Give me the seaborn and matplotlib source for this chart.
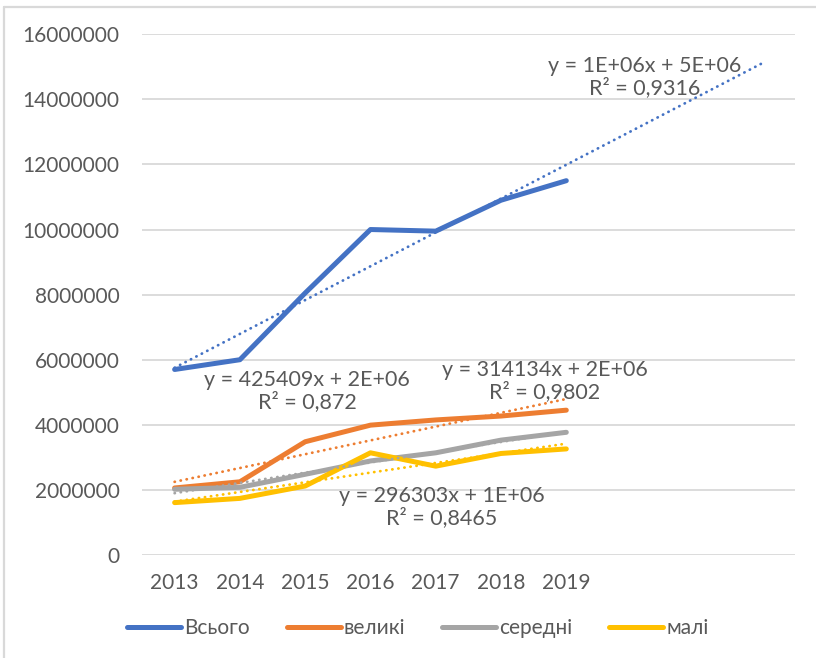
import numpy as np
import pandas as pd
import matplotlib
matplotlib.use("Agg")
import matplotlib.pyplot as plt
from matplotlib.lines import Line2D
import seaborn as sns

years = [2013, 2014, 2015, 2016, 2017, 2018, 2019]
vsogo = [5700000, 6000000, 8050000, 10000000, 9950000, 10900000, 11500000]
velyki = [2060000, 2250000, 3480000, 3990000, 4150000, 4270000, 4450000]
seredni = [2020000, 2080000, 2480000, 2890000, 3140000, 3530000, 3770000]
mali = [1610000, 1740000, 2120000, 3140000, 2730000, 3120000, 3260000]
series_names = ["Всього", "великі", "середні", "малі"]
forecast_years = [3, 0, 0, 0]
trend_labels = ["y = 1E+06x + 5E+06\nR² = 0,9316",
                "y = 425409x + 2E+06\nR² = 0,872",
                "y = 314134x + 2E+06\nR² = 0,9802",
                "y = 296303x + 1E+06\nR² = 0,8465"]
label_pos = [(2020.2, 14680000), (2015.03, 5040000), (2018.67, 5350000), (2017.09, 1470000)]
yticks = [0, 2000000, 4000000, 6000000, 8000000, 10000000, 12000000, 14000000, 16000000]

colors = ["#4472C4", "#ED7D31", "#A5A5A5", "#FFC000"]
text_color = "#595959"
grid_color = "#D9D9D9"

sns.set_theme(style="white")
plt.rcParams["font.family"] = ["Lato", "DejaVu Sans"]

df = pd.DataFrame({"year": years * 4,
                   "value": vsogo + velyki + seredni + mali,
                   "series": sum([[n] * len(years) for n in series_names], [])})

fig = plt.figure(figsize=(8.16, 6.58), dpi=100)
ax = fig.add_axes([0.174, 0.1565, 0.800, 0.7915])

sns.lineplot(data=df, x="year", y="value", hue="series", hue_order=series_names,
             palette=colors, linewidth=3.6, ax=ax, solid_capstyle="round", legend=True)

# trendlines (linear fit, Всього with 3-period forecast)
for i, name in enumerate(series_names):
    sub = df[df.series == name]
    k, b = np.polyfit(sub.year.values, sub.value.values, 1)
    xs = np.array([years[0], years[-1] + forecast_years[i]])
    tdf = pd.DataFrame({"x": xs, "y": k * xs + b})
    sns.lineplot(data=tdf, x="x", y="y", color=colors[i], linewidth=2.0,
                 linestyle=(0, (0.1, 2.1)), dash_capstyle="round", ax=ax, legend=False)
    ax.text(label_pos[i][0], label_pos[i][1], trend_labels[i], ha="center", va="center",
            multialignment="center", fontsize=15.5, color=text_color, linespacing=1.05)

ax.set_xlim(2012.5, 2022.5)
ax.set_ylim(0, 16000000)
ax.set_xticks(years)
ax.set_xticklabels([str(y) for y in years])
ax.set_yticks(yticks)
ax.set_yticklabels([str(v) for v in yticks])
ax.tick_params(axis="both", length=0, labelsize=15, colors=text_color)
ax.tick_params(axis="y", pad=16)
ax.tick_params(axis="x", pad=13)
ax.grid(axis="y", color=grid_color, linewidth=1.3)
ax.set_axisbelow(True)
for s in ax.spines.values():
    s.set_visible(False)
ax.set_xlabel("")
ax.set_ylabel("")

handles, labels = ax.get_legend_handles_labels()
ax.get_legend().remove()
leg = fig.legend(handles[:4], labels[:4], loc="center", bbox_to_anchor=(0.512, 0.0456),
                 ncol=4, frameon=False, fontsize=15, handlelength=2.6, handletextpad=0.15,
                 columnspacing=1.75)
for t in leg.get_texts():
    t.set_color(text_color)
for h in leg.legend_handles:
    h.set_linewidth(3.6)
    h.set_solid_capstyle("round")

# outer chart frame (top and left edges visible)
fig.add_artist(Line2D([4 / 816, 1.0], [1 - 7 / 658, 1 - 7 / 658], transform=fig.transFigure,
                      color=grid_color, linewidth=1.6))
fig.add_artist(Line2D([4 / 816, 4 / 816], [0.0, 1 - 7 / 658], transform=fig.transFigure,
                      color=grid_color, linewidth=1.6))

fig.savefig("out.png", dpi=100, facecolor="white")
